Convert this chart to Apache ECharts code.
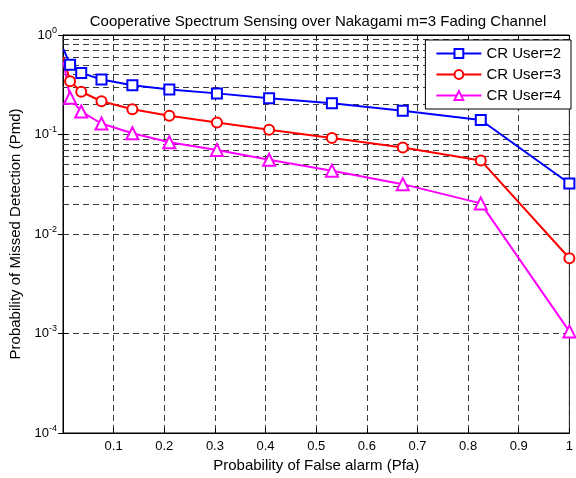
<!DOCTYPE html>
<html>
<head>
<meta charset="utf-8">
<script src="https://cdn.jsdelivr.net/npm/echarts@6/dist/echarts.min.js"></script>
<style>
html, body { margin: 0; padding: 0; background: #fff; }
#main { width: 576px; height: 478px; }
</style>
</head>
<body>
<div id="main"></div>
<script>
// Pfa points (first one is the line start, no marker)
var pfa = [0.001, 0.014, 0.036, 0.076, 0.137, 0.21, 0.304, 0.407, 0.531, 0.671, 0.825, 1.0];
var user2 = [0.72, 0.503, 0.416, 0.357, 0.313, 0.284, 0.259, 0.231, 0.206, 0.173, 0.140, 0.0322];
var user3 = [0.60, 0.343, 0.269, 0.216, 0.179, 0.154, 0.132, 0.1116, 0.0923, 0.0739, 0.0549, 0.0057];
var user4 = [0.54, 0.234, 0.170, 0.129, 0.103, 0.0836, 0.070, 0.0557, 0.0433, 0.0317, 0.0203, 0.00105];
var seriesNames = ['CR User=2', 'CR User=3', 'CR User=4'];
var xTicks = [0.1, 0.2, 0.3, 0.4, 0.5, 0.6, 0.7, 0.8, 0.9, 1];

var font = 'Liberation Sans';
var gridLine = { color: '#3a3a3a', width: 1, type: [6, 4] };

// minor grid lines at 2..9 x 10^k, like matlab's log grid
var minorY = [];
for (var k = -4; k < 0; k++) {
    for (var m = 2; m <= 9; m++) {
        minorY.push({ yAxis: m * Math.pow(10, k) });
    }
}

function pts(ys) {
    var out = [];
    for (var i = 0; i < pfa.length; i++) {
        if (i == 0) out.push({ value: [pfa[i], ys[i]], symbol: 'none' });
        else out.push([pfa[i], ys[i]]);
    }
    return out;
}

var myChart = echarts.init(document.getElementById('main'));

function lineSeries(name, ys, color, symbol, size) {
    return {
        name: name,
        type: 'line',
        data: pts(ys),
        symbol: symbol,
        symbolSize: size,
        z: 5,
        lineStyle: { color: color, width: 2 },
        itemStyle: { color: color, borderColor: color, borderWidth: 1.5 },
        animation: false
    };
}

var option = {
    backgroundColor: '#fff',
    title: {
        text: 'Cooperative Spectrum Sensing over Nakagami m=3 Fading Channel',
        left: 313,
        textAlign: 'center',
        top: 9,
        textStyle: { fontFamily: font, fontSize: 15, fontWeight: 'normal', color: '#000' }
    },
    grid: {
        left: 63, right: 3, top: 35, bottom: 41,
        show: true, borderColor: '#000', borderWidth: 1
    },
    legend: {
        data: seriesNames,
        orient: 'vertical',
        right: 5,
        top: 40,
        z: 20,
        itemWidth: 45,
        itemHeight: 11,
        itemGap: 6,
        padding: [6, 10, 6, 10],
        backgroundColor: '#fff',
        borderColor: '#000',
        borderWidth: 1,
        borderRadius: 0,
        textStyle: { fontFamily: font, fontSize: 15, color: '#000' }
    },
    xAxis: [{
        type: 'value',
        min: 0, max: 1, interval: 0.1,
        name: 'Probability of False alarm (Pfa)',
        nameLocation: 'middle',
        nameGap: 25,
        nameTextStyle: { fontFamily: font, fontSize: 15, color: '#000' },
        axisLine: { show: true, onZero: false, lineStyle: { color: '#000' } },
        axisTick: { inside: true, length: 5, lineStyle: { color: '#000' } },
        axisLabel: {
            margin: 7, fontFamily: font, fontSize: 13, color: '#000',
            formatter: function (v) { return xTicks.indexOf(Math.round(v * 10) / 10) >= 0 ? String(Math.round(v * 10) / 10) : ''; }
        },
        splitLine: { show: true, lineStyle: gridLine }
    }, {
        type: 'value', position: 'top',
        min: 0, max: 1, interval: 0.1,
        axisLine: { show: true, lineStyle: { color: '#000' } },
        axisTick: { inside: true, length: 5, lineStyle: { color: '#000' } },
        axisLabel: { show: false },
        splitLine: { show: false }
    }],
    yAxis: [{
        type: 'log',
        logBase: 10,
        min: 1e-4, max: 1,
        name: 'Probability of Missed Detection (Pmd)',
        nameLocation: 'middle',
        nameGap: 40,
        nameTextStyle: { fontFamily: font, fontSize: 15, color: '#000' },
        axisLine: { show: true, lineStyle: { color: '#000' } },
        axisTick: { inside: true, length: 5, lineStyle: { color: '#000' } },
        axisLabel: {
            margin: 6, fontFamily: font, fontSize: 13, color: '#000',
            formatter: function (v) {
                var e = Math.round(Math.log(v) / Math.LN10);
                return '{b|10}{s|' + e + '}';
            },
            rich: {
                b: { fontFamily: font, fontSize: 13, color: '#000' },
                s: { fontFamily: font, fontSize: 9, color: '#000', padding: [0, 0, 9, 0] }
            }
        },
        splitLine: { show: true, lineStyle: gridLine }
    }, {
        type: 'log', position: 'right',
        logBase: 10, min: 1e-4, max: 1,
        axisLine: { show: true, lineStyle: { color: '#000' } },
        axisTick: { inside: true, length: 5, lineStyle: { color: '#000' } },
        axisLabel: { show: false },
        splitLine: { show: false }
    }],
    series: [
        {
            name: 'minor',
            type: 'line',
            data: [],
            z: 1,
            silent: true,
            animation: false,
            markLine: {
                silent: true,
                z: 1,
                symbol: 'none',
                label: { show: false },
                lineStyle: gridLine,
                animation: false,
                data: minorY
            }
        },
        lineSeries(seriesNames[0], user2, '#0000ff', 'emptyRect', 10),
        lineSeries(seriesNames[1], user3, '#ff0000', 'emptyCircle', 10),
        lineSeries(seriesNames[2], user4, '#ff00ff', 'emptyTriangle', 12)
    ]
};
myChart.setOption(option);
</script>
</body>
</html>
